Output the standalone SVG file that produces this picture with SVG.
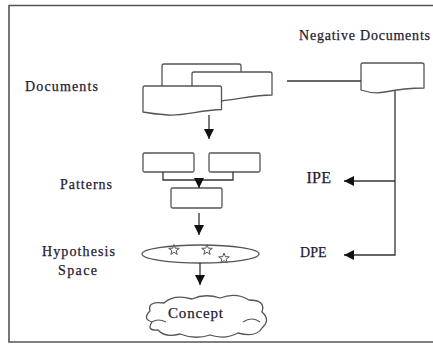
<svg xmlns="http://www.w3.org/2000/svg" width="433" height="345" viewBox="0 0 433 345">
<style>
.t{font-family:"Liberation Serif","Times New Roman",serif;fill:#1f1b33;font-size:14px;stroke:#1f1b33;stroke-width:0.25}
.s{fill:#fff;stroke:#555;stroke-width:1.3;stroke-linejoin:round}
.c{fill:none;stroke:#333;stroke-width:1.3}
</style>
<defs>
<marker id="ah" viewBox="0 0 10 10" refX="10" refY="5" markerWidth="10" markerHeight="10" markerUnits="userSpaceOnUse" orient="auto">
<path d="M0,0 L10,5 L0,10 Z" fill="#111"/>
</marker>
<path id="star" d="M0,-5.5 L1.3,-1.8 L5.3,-1.7 L2.1,0.7 L3.2,4.4 L0,2.2 L-3.2,4.4 L-2.1,0.7 L-5.3,-1.7 L-1.3,-1.8 Z"/>
</defs>
<rect width="433" height="345" fill="#fff"/>
<path d="M434,5.5 H9 V342 H434" fill="none" stroke="#555" stroke-width="1.6"/>

<g id="documents">
<path class="s" d="M164,64 H239 Q241,64 241,66 V92 C220,90 200,98 162,96 V66 Q162,64 164,64 Z"/>
<path class="s" d="M194,72 H270 Q272,72 272,74 V95 C255,95 240,99 221,101 C210,102 200,104 192,103 V74 Q192,72 194,72 Z"/>
<path class="s" d="M145,86 H219.5 Q221.5,86 221.5,88 V109.5 C200,110 185,116 168,115 C155,114 148,113 143,112 V88 Q143,86 145,86 Z"/>
<text class="t" x="25" y="91" textLength="73" lengthAdjust="spacing">Documents</text>
</g>

<g id="negative-documents">
<path class="s" d="M363,63 H422 Q424,63 424,65 V88 C405,88 395,90 385,92 C375,94 367,92 361,90 V65 Q361,63 363,63 Z"/>
<text class="t" x="299" y="40" textLength="131" lengthAdjust="spacing">Negative Documents</text>
</g>

<g id="patterns">
<rect class="s" x="143" y="153" width="51" height="19" rx="1.5"/>
<rect class="s" x="209" y="153" width="51" height="19" rx="1.5"/>
<rect class="s" x="171" y="188" width="51" height="20" rx="1.5"/>
<text class="t" x="60" y="189" textLength="52" lengthAdjust="spacing">Patterns</text>
</g>

<g id="ipe">
<text class="t" x="306.5" y="183" style="font-size:16px" textLength="24.5" lengthAdjust="spacing">IPE</text>
</g>
<g id="dpe">
<text class="t" x="300" y="256.5" textLength="26.5" lengthAdjust="spacing">DPE</text>
</g>

<g id="hypothesis-space">
<ellipse class="s" cx="200.5" cy="254" rx="58.5" ry="9"/>
<use href="#star" x="174" y="250" class="s" style="stroke-width:1"/>
<use href="#star" x="207" y="250" class="s" style="stroke-width:1"/>
<use href="#star" x="224" y="258.5" class="s" style="stroke-width:1"/>
<text class="t" x="42" y="256" textLength="73" lengthAdjust="spacing">Hypothesis</text>
<text class="t" x="58" y="275" textLength="39" lengthAdjust="spacing">Space</text>
</g>

<g id="concept">
<path class="s" d="M150,311 Q147,301 164,303 Q174,294 192,299 Q205,293 220,298 Q236,292 249,300 Q266,300 262,312 Q271,320 262,328 Q256,338 238,333 Q225,340 210,335 Q195,340 180,334 Q165,338 158,330 Q146,331 152,322 Q142,319 150,311 Z"/>
<path d="M243,322 Q252,316 260,322" fill="none" stroke="#555" stroke-width="1.1"/>
<path d="M152,322 Q158,318 166,322" fill="none" stroke="#555" stroke-width="1.1"/>
<text class="t" x="168" y="318" style="font-size:15px" textLength="55" lengthAdjust="spacing">Concept</text>
</g>

<g id="connectors">
<line class="c" x1="209" y1="115" x2="209" y2="139" marker-end="url(#ah)"/>
<path class="c" d="M163,172 V180 H233 V172"/>
<line class="c" x1="199" y1="180" x2="199" y2="188" marker-end="url(#ah)"/>
<line class="c" x1="199" y1="213" x2="199" y2="235" marker-end="url(#ah)"/>
<line class="c" x1="200" y1="263" x2="200" y2="285" marker-end="url(#ah)"/>
<line class="c" x1="287" y1="81" x2="361" y2="81"/>
<path class="c" d="M395,91 V255 H344" marker-end="url(#ah)"/>
<line class="c" x1="395" y1="181" x2="344" y2="181" marker-end="url(#ah)"/>
</g>
</svg>
